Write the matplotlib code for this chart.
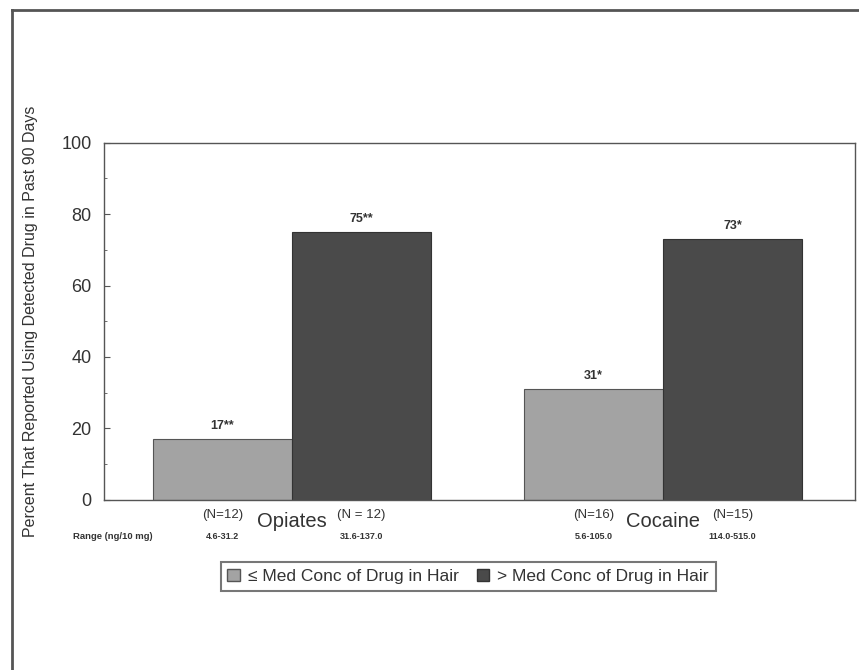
import matplotlib.pyplot as plt
from matplotlib.lines import Line2D
import matplotlib.transforms as mtransforms
import numpy as np

plt.rcParams['font.family'] = ['Liberation Sans', 'DejaVu Sans']

# datos
drugs = ['Opiates', 'Cocaine']
low_vals = [17, 31]
high_vals = [75, 73]
low_labels = ['17**', '31*']
high_labels = ['75**', '73*']
low_n = ['(N=12)', '(N=16)']
high_n = ['(N = 12)', '(N=15)']
low_range = ['4.6-31.2', '5.6-105.0']
high_range = ['31.6-137.0', '114.0-515.0']
legend_labels = ['≤ Med Conc of Drug in Hair', '> Med Conc of Drug in Hair']

light = '#a3a3a3'
dark = '#4a4a4a'
txt = '#333333'

fig = plt.figure(figsize=(8.59, 6.70), dpi=100)
ax = fig.add_axes([0.121, 0.254, 0.874, 0.533])

x = np.arange(len(drugs))
w = 0.375
ax.bar(x - w / 2, low_vals, w, color=light, edgecolor='#555555', linewidth=0.8)
ax.bar(x + w / 2, high_vals, w, color=dark, edgecolor='#333333', linewidth=0.8)

for i in range(len(drugs)):
    ax.text(x[i] - w / 2, low_vals[i] + 2, low_labels[i], ha='center', va='bottom',
            fontsize=9, color=txt, fontweight='bold')
    ax.text(x[i] + w / 2, high_vals[i] + 2, high_labels[i], ha='center', va='bottom',
            fontsize=9, color=txt, fontweight='bold')

ax.set_xlim(-0.507, 1.517)
ax.set_ylim(0, 100)
ax.set_yticks([0, 20, 40, 60, 80, 100])
ax.set_yticks(np.arange(10, 100, 20), minor=True)
ax.tick_params(axis='y', direction='in', length=4, labelsize=13, labelcolor=txt, color='#555555', pad=9)
ax.tick_params(axis='y', which='minor', direction='in', length=2, color='#555555')
ax.set_xticks([])
for s in ax.spines.values():
    s.set_color('#555555')
    s.set_linewidth(1.0)

ax.set_ylabel('Percent That Reported Using Detected Drug in Past 90 Days', fontsize=11.5,
              color=txt)
ax.yaxis.set_label_coords(-0.088, 0.5)

# etiquetas bajo el eje
trans = mtransforms.blended_transform_factory(ax.transData, ax.transAxes)
for i in range(len(drugs)):
    ax.text(x[i], -0.062, drugs[i], transform=trans, ha='center', va='center',
            fontsize=14.5, color=txt)
    ax.text(x[i] - w / 2, -0.042, low_n[i], transform=trans, ha='center', va='center',
            fontsize=9.5, color=txt)
    ax.text(x[i] + w / 2, -0.042, high_n[i], transform=trans, ha='center', va='center',
            fontsize=9.5, color=txt)
    ax.text(x[i] - w / 2, -0.104, low_range[i], transform=trans, ha='center', va='center',
            fontsize=6.5, color=txt, fontweight='bold')
    ax.text(x[i] + w / 2, -0.104, high_range[i], transform=trans, ha='center', va='center',
            fontsize=6.5, color=txt, fontweight='bold')
ax.text(-0.377, -0.104, 'Range (ng/10 mg)', transform=trans, ha='right', va='center',
        fontsize=6.8, color=txt, fontweight='bold')

handles = [plt.Rectangle((0, 0), 1, 1, facecolor=light, edgecolor='#555555'),
           plt.Rectangle((0, 0), 1, 1, facecolor=dark, edgecolor='#333333')]
leg = fig.legend(handles, legend_labels, loc='center', bbox_to_anchor=(0.545, 0.139),
                 ncol=2, fontsize=12.5, frameon=True, fancybox=False, handlelength=0.7,
                 handleheight=0.7, handletextpad=0.5, columnspacing=1.0, borderpad=0.4)
leg.get_frame().set_edgecolor('#555555')
leg.get_frame().set_linewidth(1.5)
for t in leg.get_texts():
    t.set_color(txt)

# marco exterior de la figura (escaneada)
fig.add_artist(Line2D([12 / 859, 12 / 859], [0.0, 1 - 10 / 670], transform=fig.transFigure,
                      color='#555555', linewidth=2))
fig.add_artist(Line2D([12 / 859, 1.0], [1 - 10 / 670, 1 - 10 / 670], transform=fig.transFigure,
                      color='#555555', linewidth=2))

fig.savefig('out.png', dpi=100)
